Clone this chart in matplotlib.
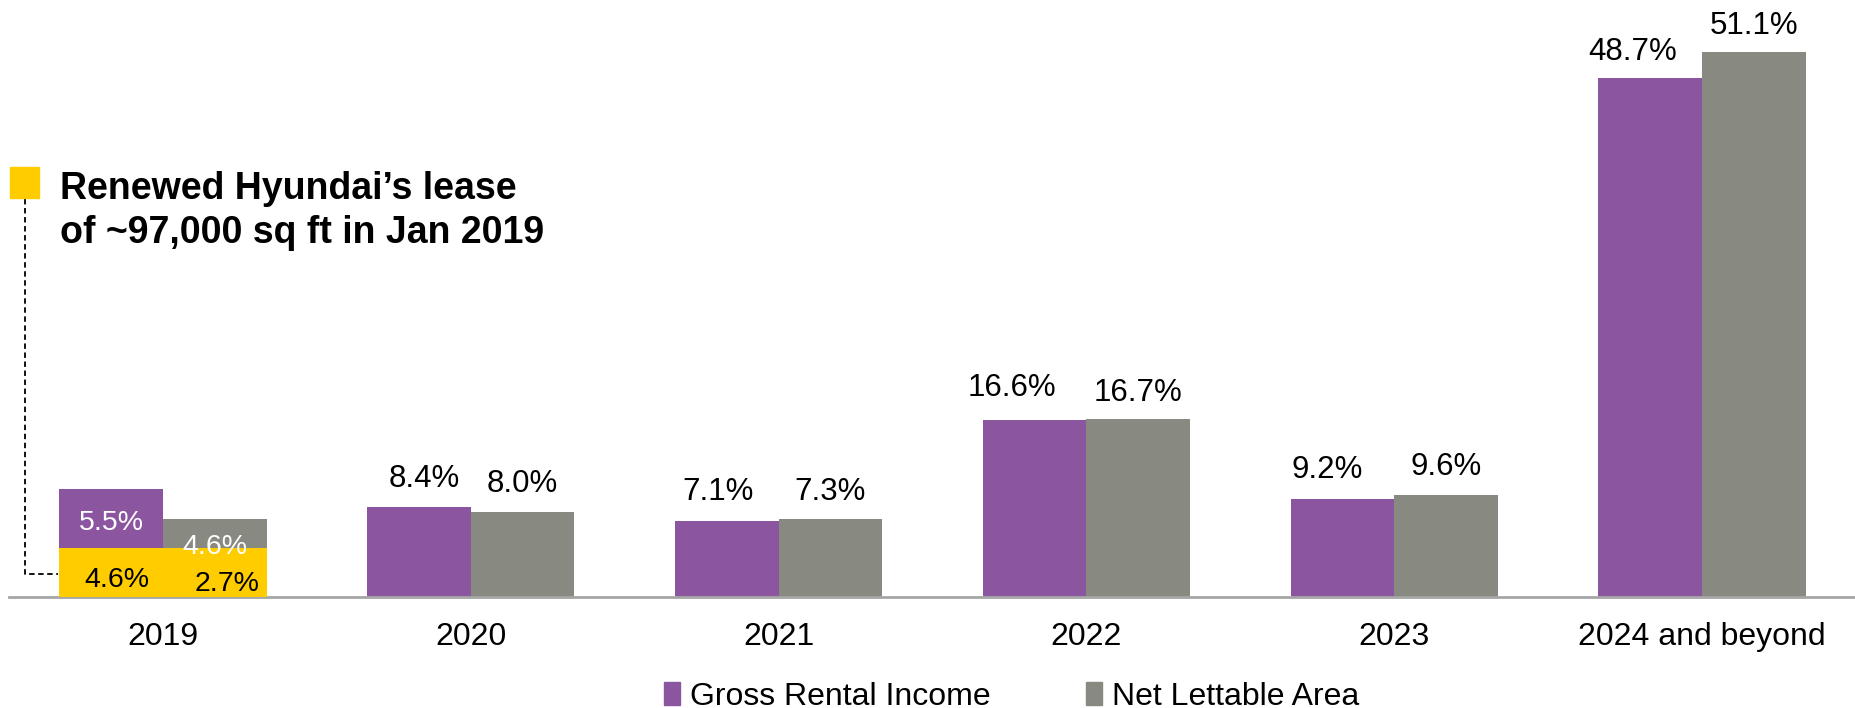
import matplotlib
matplotlib.use("Agg")
import matplotlib.pyplot as plt
import numpy as np
from matplotlib.patches import Patch, Rectangle

plt.rcParams['font.family'] = ['Liberation Sans', 'DejaVu Sans']

categories = ["2019", "2020", "2021", "2022", "2023", "2024 and beyond"]
gross_rental_income = [10.1, 8.4, 7.1, 16.6, 9.2, 48.7]
net_lettable_area = [7.3, 8.0, 7.3, 16.7, 9.6, 51.1]
# 2019 split: Hyundai renewal portion and remainder
hyundai_gri = 4.6
hyundai_nla = 2.7
remain_gri = 5.5
remain_nla = 4.6

PURPLE = "#8C55A0"
GREY = "#888980"
YELLOW = "#FFCC00"

W, H = 1856, 708
fig = plt.figure(figsize=(W / 100, H / 100), dpi=100)
ax = fig.add_axes([9 / W, (H - 597) / H, (W - 9) / W, 597 / H])

x = np.arange(len(categories))
bw = 0.337

ax.bar(x - bw / 2, gross_rental_income, bw, color=PURPLE, zorder=2)
ax.bar(x + bw / 2, net_lettable_area, bw, color=GREY, zorder=2)

# Hyundai callout box across both 2019 bars
ax.bar(x[0] - bw / 2, hyundai_gri, bw, color=YELLOW, zorder=3)
ax.bar(x[0] + bw / 2, hyundai_gri, bw, color=YELLOW, zorder=3)

ax.set_xlim(-0.5, 5.5)
ax.set_ylim(0, 56)

# label offsets in points (dx, dy) for the GRI labels, as placed in the original
gri_dx = [0, 4, -6, -16, -11, -13]
gri_dy = [0, 10, 10, 12, 10, 8]
nla_dy = [0, 9, 9, 8, 9, 8]

# value labels above bars (except 2019)
for i in range(1, len(categories)):
    ax.annotate(f"{gross_rental_income[i]:.1f}%", (x[i] - bw / 2, gross_rental_income[i]),
                xytext=(gri_dx[i], gri_dy[i]), textcoords="offset points", ha="center",
                va="bottom", fontsize=22.5, color="black")
    ax.annotate(f"{net_lettable_area[i]:.1f}%", (x[i] + bw / 2, net_lettable_area[i]),
                xytext=(0, nla_dy[i]), textcoords="offset points", ha="center", va="bottom",
                fontsize=22.5, color="black")

# 2019 inside labels
ax.text(x[0] - bw / 2, hyundai_gri + remain_gri / 2 - 0.4, f"{remain_gri:.1f}%", ha="center",
        va="center", fontsize=20.5, color="white", zorder=4)
ax.text(x[0] + bw / 2, hyundai_nla + remain_nla / 2 - 0.3, f"{remain_nla:.1f}%", ha="center",
        va="center", fontsize=20.5, color="white", zorder=4)
ax.text(x[0] - bw / 2 + 0.02, hyundai_gri / 2 - 0.7, f"{hyundai_gri:.1f}%", ha="center",
        va="center", fontsize=20.5, color="black", zorder=4)
ax.text(x[0] + bw / 2 + 0.04, hyundai_nla / 2 - 0.1, f"{hyundai_nla:.1f}%", ha="center",
        va="center", fontsize=20.5, color="black", zorder=4)

for s in ["top", "right", "left"]:
    ax.spines[s].set_visible(False)
ax.spines["bottom"].set_color("#A6A6A6")
ax.spines["bottom"].set_linewidth(2)
ax.set_yticks([])
ax.set_xticks(x)
ax.set_xticklabels(categories, fontsize=23)
ax.tick_params(axis="x", length=0, pad=18)

# callout: yellow square, text, dashed connector (figure pixel coords)
def fx(px):
    return px / W

def fy(py):
    return (H - py) / H

fig.patches.append(Rectangle((fx(10), fy(198)), fx(39) - fx(10), fy(167) - fy(198),
                             transform=fig.transFigure, color=YELLOW, zorder=5))
fig.text(fx(60), fy(199), "Renewed Hyundai\u2019s lease", fontsize=27, fontweight="bold",
         ha="left", va="baseline")
fig.text(fx(60), fy(243), "of ~97,000 sq ft in Jan 2019", fontsize=27, fontweight="bold",
         ha="left", va="baseline")
fig.add_artist(plt.Line2D([fx(25), fx(25), fx(58)], [fy(199), fy(574), fy(574)],
                          transform=fig.transFigure, color="black", lw=1.3,
                          linestyle=(0, (3, 2))))

handles = [Patch(color=PURPLE, label="Gross Rental Income"),
           Patch(color=GREY, label="Net Lettable Area")]
fig.legend(handles=handles, loc="center", bbox_to_anchor=(0.545, 0.016), ncol=2,
           frameon=False, fontsize=23, handlelength=0.5, handleheight=0.7,
           handletextpad=0.3, columnspacing=3.0, borderpad=0.0)

fig.savefig("out.png", dpi=100)
